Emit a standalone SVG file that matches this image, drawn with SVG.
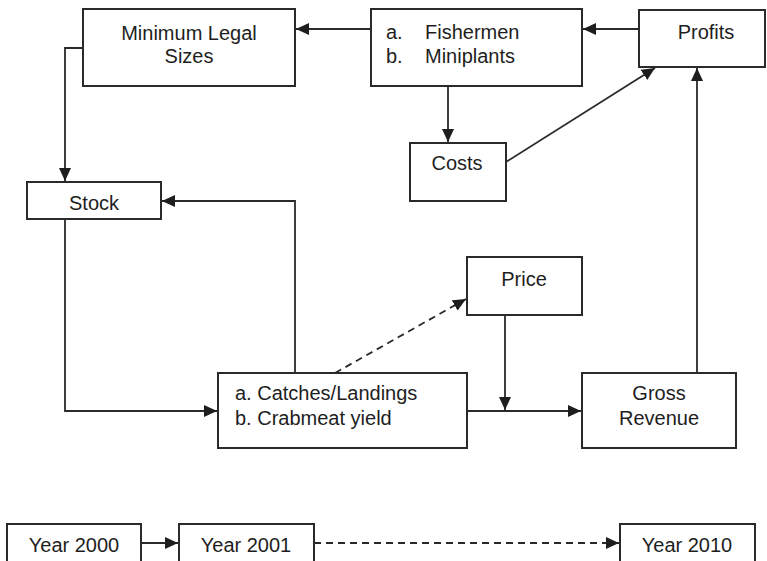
<svg xmlns="http://www.w3.org/2000/svg" width="767" height="561" viewBox="0 0 767 561">
<style>
.box{fill:#fff;stroke:#2a2a2a;stroke-width:2}
.t{font-family:"Liberation Sans",Arial,sans-serif;font-size:20px;fill:#1e1e1e}
.m{text-anchor:middle}
.c{fill:none;stroke:#2a2a2a;stroke-width:1.8}
.d{stroke-dasharray:7,5}
</style>
<defs>
<marker id="ah" markerUnits="userSpaceOnUse" markerWidth="14" markerHeight="12" refX="13" refY="6" orient="auto">
<path d="M0,0 L13,6 L0,12 Z" fill="#1e1e1e"/>
</marker>
</defs>
<rect width="767" height="561" fill="#fff"/>
<g id="connectors">
<path class="c" d="M371,29 H296" marker-end="url(#ah)"/>
<path class="c" d="M639,29 H583" marker-end="url(#ah)"/>
<path class="c" d="M83,48 H65 V181" marker-end="url(#ah)"/>
<path class="c" d="M448,86 V142" marker-end="url(#ah)"/>
<path class="c" d="M506,162 L655,68" marker-end="url(#ah)"/>
<path class="c" d="M697,373 V68" marker-end="url(#ah)"/>
<path class="c" d="M295,373 V201 H162" marker-end="url(#ah)"/>
<path class="c" d="M65,219 V411 H217" marker-end="url(#ah)"/>
<path class="c d" d="M335,373 L466,299" marker-end="url(#ah)"/>
<path class="c" d="M505,315 V410" marker-end="url(#ah)"/>
<path class="c" d="M467,411 H581" marker-end="url(#ah)"/>
<path class="c" d="M141,543 H178" marker-end="url(#ah)"/>
<path class="c d" d="M314,543 H619" marker-end="url(#ah)"/>
</g>
<g id="minimum-legal-sizes">
<rect class="box" x="83" y="9" width="212" height="77"/>
<text class="t m" x="189" y="40">Minimum Legal</text>
<text class="t m" x="189" y="63">Sizes</text>
</g>
<g id="fishermen-miniplants">
<rect class="box" x="371" y="9" width="211" height="77"/>
<text class="t" x="386" y="39">a.</text>
<text class="t" x="425" y="39">Fishermen</text>
<text class="t" x="386" y="63">b.</text>
<text class="t" x="425" y="63">Miniplants</text>
</g>
<g id="profits">
<rect class="box" x="639" y="10" width="126" height="57"/>
<text class="t m" x="706" y="39">Profits</text>
</g>
<g id="costs">
<rect class="box" x="410" y="143" width="96" height="58"/>
<text class="t m" x="457" y="170">Costs</text>
</g>
<g id="stock">
<rect class="box" x="27" y="182" width="134" height="37"/>
<text class="t m" x="94" y="210">Stock</text>
</g>
<g id="price">
<rect class="box" x="467" y="257" width="115" height="58"/>
<text class="t m" x="524" y="286">Price</text>
</g>
<g id="catches">
<rect class="box" x="218" y="373" width="249" height="75"/>
<text class="t" x="235" y="400">a. Catches/Landings</text>
<text class="t" x="235" y="425">b. Crabmeat yield</text>
</g>
<g id="gross-revenue">
<rect class="box" x="582" y="373" width="154" height="75"/>
<text class="t m" x="659" y="400">Gross</text>
<text class="t m" x="659" y="425">Revenue</text>
</g>
<g id="year-2000">
<rect class="box" x="7" y="524" width="134" height="50"/>
<text class="t m" x="74" y="552">Year 2000</text>
</g>
<g id="year-2001">
<rect class="box" x="179" y="524" width="135" height="50"/>
<text class="t m" x="246" y="552">Year 2001</text>
</g>
<g id="year-2010">
<rect class="box" x="620" y="524" width="135" height="50"/>
<text class="t m" x="687" y="552">Year 2010</text>
</g>
</svg>
